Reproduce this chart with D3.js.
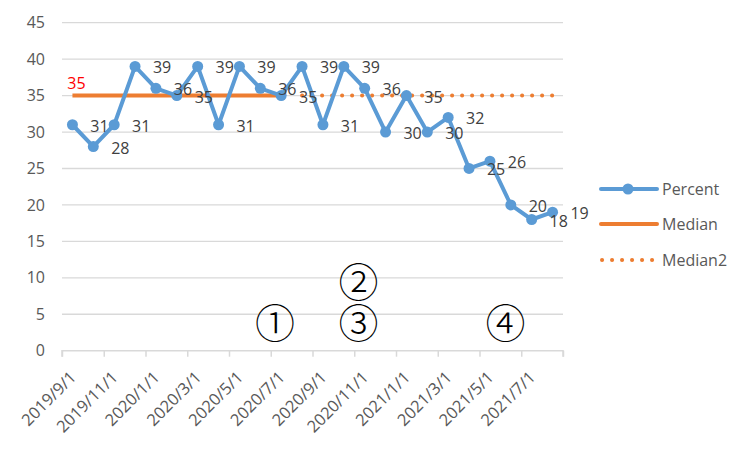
<!DOCTYPE html>
<html><head><meta charset="utf-8">
<script src="https://cdn.jsdelivr.net/npm/d3@7"></script>
<style>
body{margin:0;background:#fff;}
svg{display:block;}
text{font-family:"Open Sans","Noto Sans",sans-serif;}
</style></head>
<body>
<svg id="chart" width="750" height="450"></svg>
<script>
const months = ["2019/9/1","2019/10/1","2019/11/1","2019/12/1","2020/1/1","2020/2/1","2020/3/1","2020/4/1","2020/5/1","2020/6/1","2020/7/1","2020/8/1","2020/9/1","2020/10/1","2020/11/1","2020/12/1","2021/1/1","2021/2/1","2021/3/1","2021/4/1","2021/5/1","2021/6/1","2021/7/1","2021/8/1"];
const percent = [31,28,31,39,36,35,39,31,39,36,35,39,31,39,36,30,35,30,32,25,26,20,18,19];
const median  = [35,35,35,35,35,35,35,35,35,35,35,null,null,null,null,null,null,null,null,null,null,null,null,null];
const median2 = [null,null,null,null,null,null,null,null,null,null,null,35,35,35,35,35,35,35,35,35,35,35,35,35];
const tickLabels = ["2019/9/1","2019/11/1","2020/1/1","2020/3/1","2020/5/1","2020/7/1","2020/9/1","2020/11/1","2021/1/1","2021/3/1","2021/5/1","2021/7/1"];
const yTicks = [0,5,10,15,20,25,30,35,40,45];
const annotLabels = ["①","②","③","④"];
const annotMonth  = [10.2,14.2,14.2,21.25];
const annotValue  = [4.1,9.7,4.1,4.1];
const seriesNames = ["Percent","Median","Median2"];

const svg = d3.select("#chart");
const blue = "#5B9BD5", orange = "#ED7D31", grid = "#D9D9D9", txt = "#595959";

const xi = d3.scaleLinear().domain([0, months.length]).range([62, 563]);
const y = d3.scaleLinear().domain([0, 45]).range([350.7, 22.7]);
const px = i => xi(i + 0.5);

// gridlines
svg.append("g").selectAll("line").data(yTicks.filter(d => d > 0)).join("line")
  .attr("x1", xi(0)).attr("x2", xi(months.length))
  .attr("y1", d => y(d)).attr("y2", d => y(d))
  .attr("stroke", grid).attr("stroke-width", 1.3);

// y labels
const yAxis = d3.axisLeft(y).tickValues(yTicks).tickSize(0).tickPadding(0);
const gy = svg.append("g").attr("transform", "translate(45,0)").call(yAxis);
gy.attr("font-size", 16).attr("font-family", "Open Sans");
gy.select(".domain").remove();
gy.selectAll("text").attr("fill", txt);

// x axis
const tickIdx = d3.range(0, months.length + 1, 2);
const xAxis = d3.axisBottom(xi).tickValues(tickIdx).tickSize(6)
  .tickFormat(i => tickLabels[i / 2] || "");
const gx = svg.append("g").attr("transform", `translate(0,${y(0)})`).call(xAxis);
gx.attr("font-size", 16.5).attr("font-family", "Open Sans");
gx.select(".domain").attr("stroke", grid).attr("stroke-width", 1.5).attr("d", `M${xi(0)},6V0H${xi(months.length)}V6`);
gx.selectAll(".tick line").attr("stroke", grid).attr("stroke-width", 1.5);
gx.selectAll(".tick text")
  .attr("fill", txt)
  .attr("text-anchor", "end").attr("dy", null).attr("y", 0)
  .attr("dominant-baseline", "central")
  .attr("transform", "translate(10,23) rotate(-45)");

// median lines
const lineGen = arr => d3.line().defined(d => d != null).x((d, i) => px(i)).y(d => y(d))(arr);
svg.append("path").attr("d", lineGen(median)).attr("fill", "none")
  .attr("stroke", orange).attr("stroke-width", 4);
svg.append("path").attr("d", lineGen(median2)).attr("fill", "none")
  .attr("stroke", orange).attr("stroke-width", 4)
  .attr("stroke-linecap", "round").attr("stroke-dasharray", "0.1 9.9");

// percent line
svg.append("path").attr("d", lineGen(percent)).attr("fill", "none")
  .attr("stroke", blue).attr("stroke-width", 4).attr("stroke-linejoin", "round");
svg.append("g").selectAll("circle").data(percent).join("circle")
  .attr("cx", (d, i) => px(i)).attr("cy", d => y(d)).attr("r", 5.5).attr("fill", blue);

// data labels
svg.append("g").selectAll("text").data(percent).join("text")
  .attr("x", (d, i) => px(i) + 27).attr("y", d => y(d) + 1)
  .attr("text-anchor", "middle").attr("dominant-baseline", "central")
  .attr("fill", "#404040").style("font-size", "16px")
  .text(d => d);

// red median label
svg.append("text").attr("x", px(0) + 4).attr("y", y(median[0]) - 13)
  .attr("text-anchor", "middle").attr("dominant-baseline", "central")
  .attr("fill", "#FF0000").style("font-size", "16px").text(median[0]);

// circled annotations
svg.append("g").selectAll("text").data(annotLabels).join("text")
  .attr("x", (d, i) => xi(annotMonth[i])).attr("y", (d, i) => y(annotValue[i]))
  .attr("text-anchor", "middle").attr("dominant-baseline", "central")
  .attr("fill", "#000").style("font-size", "40px")
  .style("font-family", "'Noto Sans CJK JP'").style("font-weight", "300")
  .text(d => d);

// legend
const lg = svg.append("g");
const ly = [189, 224, 260];
seriesNames.forEach((name, k) => {
  const g = lg.append("g");
  if (k === 0) {
    g.append("line").attr("x1", 601).attr("x2", 657).attr("y1", ly[k]).attr("y2", ly[k]).attr("stroke", blue).attr("stroke-width", 4).attr("stroke-linecap","round");
    g.append("circle").attr("cx", 628).attr("cy", ly[k]).attr("r", 5.5).attr("fill", blue);
  } else if (k === 1) {
    g.append("line").attr("x1", 601).attr("x2", 657).attr("y1", ly[k]).attr("y2", ly[k]).attr("stroke", orange).attr("stroke-width", 4).attr("stroke-linecap","round");
  } else {
    g.append("line").attr("x1", 602).attr("x2", 657).attr("y1", ly[k]).attr("y2", ly[k]).attr("stroke", orange).attr("stroke-width", 4).attr("stroke-linecap","round").attr("stroke-dasharray","0.1 9.9");
  }
  g.append("text").attr("x", 662).attr("y", ly[k]).attr("dominant-baseline", "central")
    .attr("fill", txt).style("font-size", "16px").text(name);
});
</script>
</body></html>
